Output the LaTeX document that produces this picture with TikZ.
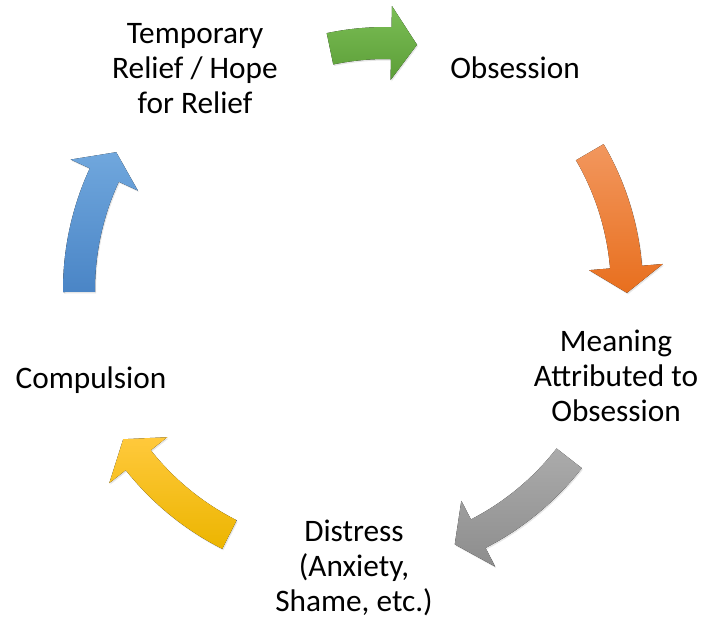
\documentclass[tikz,border=0pt]{standalone}
\usepackage{tkz-euclide}
\usepackage{fontspec}
\setmainfont{Carlito}
\usetikzlibrary{shadows}
\definecolor{greenA}{HTML}{7BBE55}  \definecolor{greenB}{HTML}{5C9E38}
\definecolor{orangeA}{HTML}{F2975E} \definecolor{orangeB}{HTML}{E86F1E}
\definecolor{grayA}{HTML}{ABABAB}   \definecolor{grayB}{HTML}{8D8D8D}
\definecolor{yellowA}{HTML}{FFC93C} \definecolor{yellowB}{HTML}{ECB500}
\definecolor{blueA}{HTML}{70A7DD}   \definecolor{blueB}{HTML}{4A85C6}

\begin{document}
\begin{tikzpicture}[x=1pt,y=1pt,
  txt/.style={align=center,inner sep=0pt,font=\fontsize{31.3}{35}\selectfont}]
  \useasboundingbox (0,0) rectangle (705,618);
  \tkzDefPoint(353,328){O}   \tkzDefPoint(386,301){G}
  \foreach \ctr/\ta/\tb/\colA/\colB [evaluate=\tb as \hb using \tb+5.4] in
    {G/101.8/83.5/greenA/greenB,   O/30.2/-0.6/orangeA/orangeB,
     O/-37.9/-68.2/grayA/grayB,    O/243.2/213/yellowA/yellowB,
     O/180.4/149.8/blueA/blueB}
    \fill[shift={(\ctr)},top color=\colA,bottom color=\colB,
          drop shadow={opacity=.2,shadow xshift=1pt,shadow yshift=-1.5pt}]
      (\ta:290) arc[start angle=\ta,end angle=\hb,radius=290] -- (\hb:311)
      -- (\tb:274) -- (\hb:237) -- (\hb:258)
      arc[start angle=\hb,end angle=\ta,radius=258] -- cycle;
  \node[txt] (Rel)  at (195,549) {Temporary\\Relief / Hope\\for Relief};
  \node[txt] (Obs)  at (515,550) {Obsession};
  \node[txt] (Mean) at (616,242) {Meaning\\Attributed to\\Obsession};
  \node[txt] (Dist) at (354,50)  {Distress\\(Anxiety,\\Shame, etc.)};
  \node[txt] (Comp) at (91,238)  {Compulsion};
\end{tikzpicture}
\end{document}
